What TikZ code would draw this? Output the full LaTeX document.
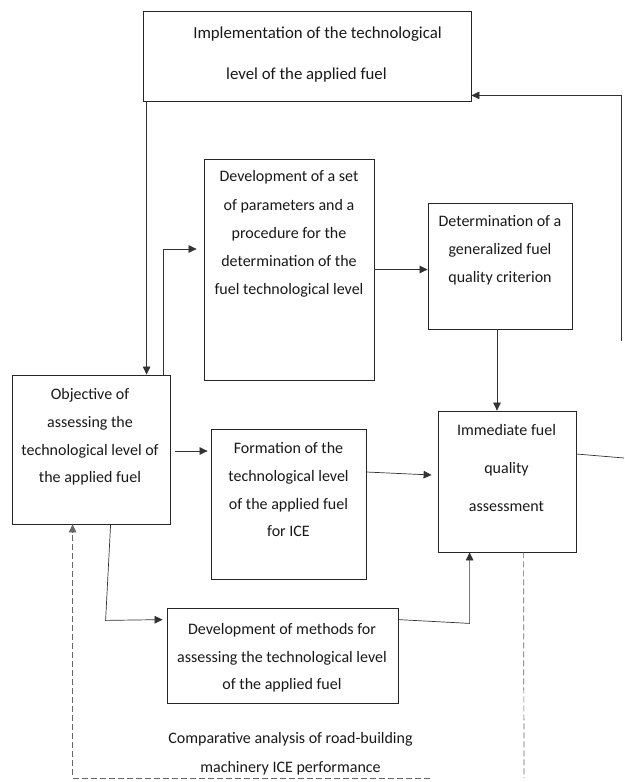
\documentclass[tikz,border=0pt]{standalone}
\usepackage{fontspec}
\setmainfont{Carlito}
\usetikzlibrary{arrows.meta,calc}
\begin{document}
\begin{tikzpicture}[x=1pt,y=-1pt,
  box/.style={draw=black!85, line width=0.8pt, rectangle, inner sep=0pt},
  txt/.style={align=center, inner sep=0pt, anchor=north, text=black!90, font=\fontsize{16}{#1}\selectfont},
  con/.style={draw=black!80, line width=0.7pt},
  tip/.style={-{Triangle[length=8pt,width=7.5pt]}},
  arr/.style={con, tip},
  dashline/.style={draw=black!60, line width=0.7pt, dash pattern=on 6pt off 3pt}]
\useasboundingbox (0,0) rectangle (624,782);
\fill[white] (0,0) rectangle (624,782);

% boxes
\node[box, minimum width=328pt, minimum height=90pt]  (impl) at (307,56) {};
\node[box, minimum width=170pt, minimum height=221pt] (dev)  at (289,269.5) {};
\node[box, minimum width=144pt, minimum height=126pt] (det)  at (500,266) {};
\node[box, minimum width=158pt, minimum height=149pt] (obj)  at (91,449.5) {};
\node[box, minimum width=155pt, minimum height=150pt] (form) at (288.5,504) {};
\node[box, minimum width=138pt, minimum height=141pt] (imm)  at (507,481.5) {};
\node[box, minimum width=231pt, minimum height=95pt]  (meth) at (282.5,655.5) {};

% texts
\node[txt=41, font=\fontsize{16.8}{41}\selectfont] (implT) at (306.5,9.5) {\strut\hspace*{22pt}Implementation of the technological\\level of the applied fuel};
\node[txt=28.25] (devT) at (289,161.9) {\strut Development of a set\\of parameters and a\\procedure for the\\determination of the\\fuel technological level};
\node[txt=28] (detT) at (500,207.1) {\strut Determination of a\\generalized fuel\\quality criterion};
\node[txt=27.7] (objT) at (90,380.3) {\strut Objective of\\assessing the\\technological level of\\the applied fuel};
\node[txt=27.7] (formT) at (288.5,434.3) {\strut Formation of the\\technological level\\of the applied fuel\\for ICE};
\node[txt=38] (immT) at (506.5,409.1) {\strut Immediate fuel\\quality\\assessment};
\node[txt=27.5] (methT) at (282,615.45) {\strut Development of methods for\\assessing the technological level\\of the applied fuel};
\node[txt=29] (compT) at (290.5,723.4) {\strut Comparative analysis of road-building\\machinery ICE performance};

% free ends and connector points
\coordinate (rightA) at (624,458);
\coordinate (rightB) at (621,341);
\coordinate (dashEnd) at (524,778);
\coordinate (dashStart) at (430,778);
\coordinate (implOut) at ($(impl.south west)+(4,0)$);
\coordinate (detOut) at ($(det.south)+(-3,0)$);

% connectors
\draw[arr] (implOut) -- (implOut |- obj.north);
\draw[arr] ($(obj.north east)+(-7,0)$) |- ($(dev.west)+(-7,-20.5)$);
\draw[arr] (dev.east) -- (dev.east -| det.west);
\draw[arr] (detOut) -- (detOut |- imm.north);
\draw[arr] ($(obj.east)+(5,1.5)$) -- ($(form.west)+(-3,-53)$);
\draw[arr] ($(form.east)+(0,-32)$) -- ($(imm.west)+(-6,-6.5)$);
\draw[arr] ($(obj.south west)+(99,0)$) -- ($(obj.south west)+(94,96)$) -- ($(meth.north west)+(-4,12)$);
\draw[arr] ($(meth.north east)+(0,12)$) -- ($(imm.south west)+(32,71)$) -- ($(imm.south west)+(32,0)$);
\draw[con] ($(imm.east)+(0,-27.5)$) -- (rightA);
\draw[arr] (rightB) |- ($(impl.south east)+(0,-6)$);
\draw[dashline] ($(imm.south west)+(86,0)$) -- (dashEnd);
\draw[dashline, tip] (dashStart) -| ($(obj.south west)+(61,0)$);
\end{tikzpicture}
\end{document}
